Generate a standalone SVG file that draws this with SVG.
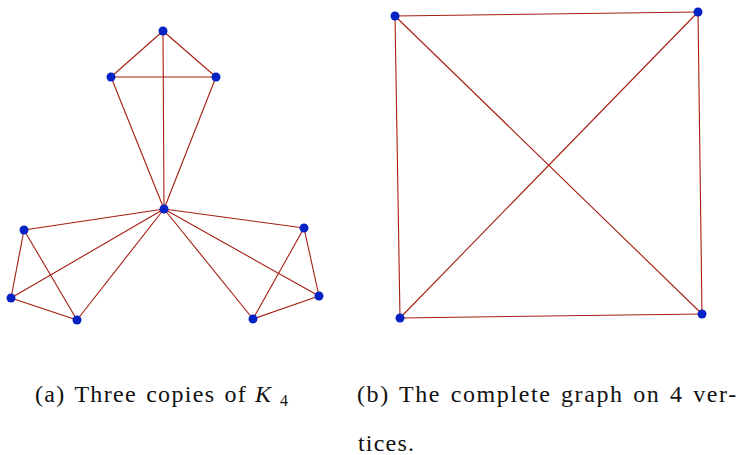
<svg xmlns="http://www.w3.org/2000/svg" width="740" height="455" viewBox="0 0 740 455">
<style>
.e{stroke:#a51d10;stroke-width:1.1;fill:none}
.n{fill:#0523c4}
</style>
<rect width="740" height="455" fill="#fff"/>
<g id="connectors">
<line class="e" x1="163" y1="31" x2="111" y2="77"/>
<line class="e" x1="163" y1="31" x2="216" y2="77"/>
<line class="e" x1="111" y1="77" x2="216" y2="77"/>
<line class="e" x1="163" y1="31" x2="164" y2="209"/>
<line class="e" x1="111" y1="77" x2="164" y2="209"/>
<line class="e" x1="216" y1="77" x2="164" y2="209"/>
<line class="e" x1="164" y1="209" x2="24" y2="230"/>
<line class="e" x1="164" y1="209" x2="11" y2="298"/>
<line class="e" x1="164" y1="209" x2="77" y2="320"/>
<line class="e" x1="24" y1="230" x2="11" y2="298"/>
<line class="e" x1="24" y1="230" x2="77" y2="320"/>
<line class="e" x1="11" y1="298" x2="77" y2="320"/>
<line class="e" x1="164" y1="209" x2="304" y2="228"/>
<line class="e" x1="164" y1="209" x2="319" y2="296"/>
<line class="e" x1="164" y1="209" x2="253" y2="319"/>
<line class="e" x1="304" y1="228" x2="319" y2="296"/>
<line class="e" x1="304" y1="228" x2="253" y2="319"/>
<line class="e" x1="319" y1="296" x2="253" y2="319"/>
<line class="e" x1="395" y1="16" x2="698" y2="12"/>
<line class="e" x1="395" y1="16" x2="400" y2="318"/>
<line class="e" x1="395" y1="16" x2="702" y2="314"/>
<line class="e" x1="698" y1="12" x2="702" y2="314"/>
<line class="e" x1="698" y1="12" x2="400" y2="318"/>
<line class="e" x1="400" y1="318" x2="702" y2="314"/>
</g>
<g id="n1"><circle class="n" cx="163" cy="31" r="4.5"/></g>
<g id="n2"><circle class="n" cx="111" cy="77" r="4.5"/></g>
<g id="n3"><circle class="n" cx="216" cy="77" r="4.5"/></g>
<g id="n4"><circle class="n" cx="164" cy="209" r="4.5"/></g>
<g id="n5"><circle class="n" cx="24" cy="230" r="4.5"/></g>
<g id="n6"><circle class="n" cx="11" cy="298" r="4.5"/></g>
<g id="n7"><circle class="n" cx="77" cy="320" r="4.5"/></g>
<g id="n8"><circle class="n" cx="304" cy="228" r="4.5"/></g>
<g id="n9"><circle class="n" cx="319" cy="296" r="4.5"/></g>
<g id="n10"><circle class="n" cx="253" cy="319" r="4.5"/></g>
<g id="m1"><circle class="n" cx="395" cy="16" r="4.5"/></g>
<g id="m2"><circle class="n" cx="698" cy="12" r="4.5"/></g>
<g id="m3"><circle class="n" cx="400" cy="318" r="4.5"/></g>
<g id="m4"><circle class="n" cx="702" cy="314" r="4.5"/></g>
<g id="captions" fill="#111">
<text x="35" y="402" font-size="24" font-family="Liberation Serif" letter-spacing="1.3" word-spacing="2">(a) Three copies of</text>
<text x="255" y="402" font-size="24" font-family="Liberation Serif" font-style="italic">K</text>
<text x="280" y="406" font-size="16" font-family="Liberation Serif">4</text>
<text x="357" y="402" font-size="24" font-family="Liberation Serif" letter-spacing="1.6" word-spacing="2">(b) The complete graph on 4 ver-</text>
<text x="358" y="451" font-size="24" font-family="Liberation Serif" letter-spacing="1.2">tices.</text>
</g>
</svg>
